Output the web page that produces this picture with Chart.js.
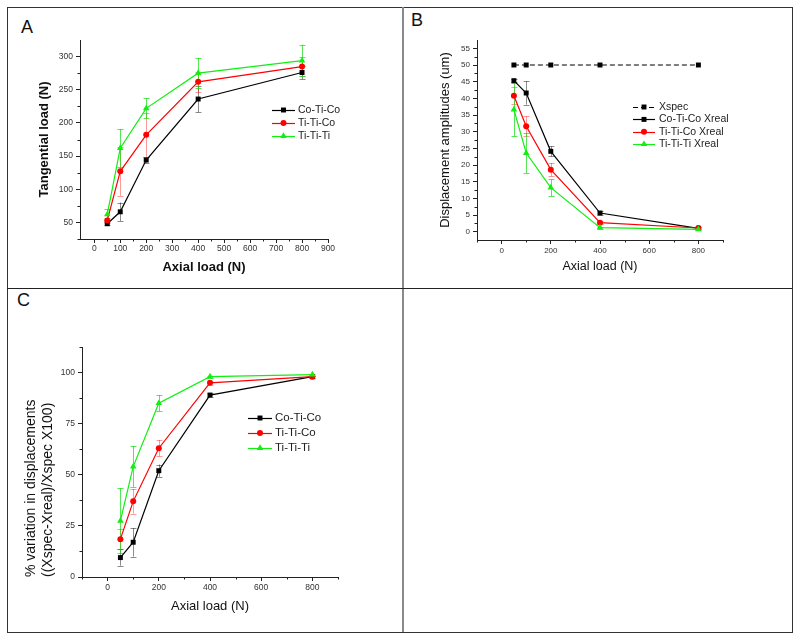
<!DOCTYPE html>
<html>
<head>
<meta charset="utf-8">
<title>Axial load - tangential load and displacement</title>
<script src="https://cdn.jsdelivr.net/npm/chart.js@4.4.1/dist/chart.umd.min.js"></script>
<style>
  html, body { margin: 0; padding: 0; background: #fff; }
  #page { position: relative; width: 800px; height: 640px; overflow: hidden; font-family: 'Liberation Sans', Arial, sans-serif; }
  #page canvas { position: absolute; left: 0; top: 0; }
  .frame { position: absolute; left: 7px; top: 7px; width: 784px; height: 624px; border: 1px solid #333; }
  .vline { position: absolute; left: 402px; top: 7px; width: 2px; height: 625px; background: #8a8a8a; }
  .hline { position: absolute; left: 7px; top: 288px; width: 785px; height: 1px; background: #222; }
  .tag { position: absolute; font-size: 18px; line-height: 18px; color: #111; }
</style>
</head>
<body>
<div id="page">
  <div class="frame"></div>
  <div class="vline"></div>
  <div class="hline"></div>
  <div class="tag" style="left:21px;top:18px">A</div>
  <div class="tag" style="left:411px;top:11px">B</div>
  <div class="tag" style="left:17px;top:291px">C</div>
  <canvas id="chartA" width="800" height="640"></canvas>
  <canvas id="chartB" width="800" height="640"></canvas>
  <canvas id="chartC" width="800" height="640"></canvas>
</div>
<script>
var FONT = "'Liberation Sans', Arial, sans-serif";

var axialLoad = [50, 100, 200, 400, 800];

// A - tangential load (N)
var tangCoTiCo = [48, 66, 144, 236, 276];
var tangCoTiCoErr = [2, 14, 4, 20, 10];
var tangTiTiCo = [53, 127, 182, 262, 285];
var tangTiTiCoErr = [4, 37, 33, 15, 15];
var tangTiTiTi = [62, 162, 222, 275, 294];
var tangTiTiTiErr = [8, 29, 15, 23, 24];

// B - displacement amplitudes (um)
var xSpec = [50, 50, 50, 50, 50];
var dispCoTiCo = [45.3, 41.6, 24.1, 5.6, 1.0];
var dispCoTiCoErr = [0.5, 3.5, 1.5, 0.5, 0.3];
var dispTiTiCo = [40.8, 31.6, 18.6, 2.7, 1.1];
var dispTiTiCoErr = [2.5, 3, 2, 0.5, 0.3];
var dispTiTiTi = [36.6, 23.6, 13.2, 1.2, 0.7];
var dispTiTiTiErr = [8, 6, 2.5, 0.3, 0.2];

// C - % variation in displacements
var varCoTiCo = [9.5, 17, 52, 89, 98];
var varCoTiCoErr = [4, 7, 3, 1, 0.5];
var varTiTiCo = [18.5, 37, 63, 95, 98];
var varTiTiCoErr = [5, 6, 4, 1, 0.5];
var varTiTiTi = [27.5, 54, 85, 98, 99];
var varTiTiTiErr = [16, 10, 4, 0.5, 0.5];

// tick values
var ticksAx = [0, 100, 200, 300, 400, 500, 600, 700, 800, 900];
var minorAx = [50, 150, 250, 350, 450, 550, 650, 750, 850];
var ticksAy = [50, 100, 150, 200, 250, 300];
var minorAy = [25, 75, 125, 175, 225, 275];
var ticksBx = [0, 200, 400, 600, 800];
var minorBx = [-100, 100, 300, 500, 700, 900];
var ticksBy = [0, 5, 10, 15, 20, 25, 30, 35, 40, 45, 50, 55];
var minorBy = [2.5, 7.5, 12.5, 17.5, 22.5, 27.5, 32.5, 37.5, 42.5, 47.5, 52.5];
var ticksCx = [0, 200, 400, 600, 800];
var minorCx = [-100, 100, 300, 500, 700, 900];
var ticksCy = [0, 25, 50, 75, 100];
var minorCy = [12.5, 37.5, 62.5, 87.5, 112.5];

var BLACK = '#000000', RED = '#ff0000', GREEN = '#11ee11';

function pts(ys) {
    return axialLoad.map(function (x, i) {
        return {x: x, y: ys[i]};
    });
}

function series(label, ys, errs, color, errColor, style, radius, order, dash) {
    return {
        label: label,
        data: pts(ys),
        errors: errs,
        errorColor: errColor,
        borderColor: color,
        backgroundColor: color,
        borderWidth: 1.2,
        borderDash: dash || [],
        pointStyle: style,
        pointRadius: radius,
        pointBorderWidth: 0,
        pointBackgroundColor: color,
        tension: 0,
        order: order
    };
}

// error bars drawn under the markers
var errorBars = {
    id: 'errorBars',
    beforeDatasetsDraw: function (chart) {
        var ctx = chart.ctx;
        var yScale = chart.scales.y;
        chart.data.datasets.forEach(function (ds, i) {
            if (!ds.errors) return;
            var meta = chart.getDatasetMeta(i);
            ctx.save();
            ctx.strokeStyle = ds.errorColor || ds.borderColor;
            ctx.lineWidth = 1;
            ctx.beginPath();
            meta.data.forEach(function (pt, j) {
                var e = ds.errors[j];
                if (!e) return;
                var v = ds.data[j].y;
                var top = yScale.getPixelForValue(v + e);
                var bot = yScale.getPixelForValue(v - e);
                var x = Math.round(pt.x) + 0.5;
                ctx.moveTo(x, top); ctx.lineTo(x, bot);
                ctx.moveTo(x - 3, Math.round(top) + 0.5); ctx.lineTo(x + 3, Math.round(top) + 0.5);
                ctx.moveTo(x - 3, Math.round(bot) + 0.5); ctx.lineTo(x + 3, Math.round(bot) + 0.5);
            });
            ctx.stroke();
            ctx.restore();
        });
    }
};

function minorTicks(xs, ys) {
    return {
        id: 'minorTicks',
        afterDraw: function (chart) {
            var ctx = chart.ctx, area = chart.chartArea;
            ctx.save();
            ctx.strokeStyle = '#222';
            ctx.lineWidth = 1;
            ctx.beginPath();
            xs.forEach(function (v) {
                var px = Math.round(chart.scales.x.getPixelForValue(v)) + 0.5;
                ctx.moveTo(px, area.bottom); ctx.lineTo(px, area.bottom + 2.5);
            });
            ys.forEach(function (v) {
                var py = Math.round(chart.scales.y.getPixelForValue(v)) + 0.5;
                ctx.moveTo(area.left, py); ctx.lineTo(area.left - 2.5, py);
            });
            ctx.stroke();
            ctx.restore();
        }
    };
}

function panelLegend(box) {
    return {
        id: 'panelLegend',
        afterDraw: function (chart) {
            var ctx = chart.ctx;
            ctx.save();
            chart.data.datasets.forEach(function (ds, i) {
                var y = box.y + i * box.dy;
                ctx.strokeStyle = ds.borderColor;
                ctx.lineWidth = 1.2;
                ctx.setLineDash(ds.borderDash || []);
                ctx.beginPath();
                ctx.moveTo(box.x0, Math.round(y) + 0.5);
                ctx.lineTo(box.x1, Math.round(y) + 0.5);
                ctx.stroke();
                ctx.setLineDash([]);
                ctx.fillStyle = ds.borderColor;
                Chart.helpers.drawPoint(ctx, {pointStyle: ds.pointStyle, radius: ds.pointRadius, rotation: 0, borderWidth: 0}, (box.x0 + box.x1) / 2, y);
                ctx.fillStyle = '#222';
                ctx.font = box.font;
                ctx.textBaseline = 'middle';
                ctx.textAlign = 'left';
                ctx.fillText(ds.label, box.tx, y);
            });
            ctx.restore();
        }
    };
}

function axis(o) {
    return {
        type: 'linear',
        min: o.min,
        max: o.max,
        afterBuildTicks: function (scale) {
            scale.ticks = o.ticks.map(function (v) { return {value: v}; });
        },
        afterFit: function (scale) {
            if (scale.isHorizontal()) scale.height = o.size;
            else scale.width = o.size;
        },
        grid: {drawOnChartArea: false, drawTicks: true, tickLength: 4, color: '#222'},
        border: {display: true, color: '#222', width: 1},
        ticks: {font: {family: FONT, size: o.tickSize}, color: '#333', padding: o.tickPad, maxRotation: 0, autoSkip: false},
        title: {
            display: true,
            text: o.title,
            color: '#111',
            padding: 0,
            align: o.align || 'center',
            font: {family: FONT, size: o.titleSize, weight: o.bold ? 'bold' : 'normal', lineHeight: 1.2}
        }
    };
}

function baseOptions(pad, xAxis, yAxis) {
    return {
        responsive: false,
        animation: false,
        devicePixelRatio: 1,
        layout: {padding: pad},
        plugins: {legend: {display: false}, tooltip: {enabled: false}},
        scales: {x: xAxis, y: yAxis}
    };
}

// Panel A
new Chart(document.getElementById('chartA'), {
    type: 'line',
    data: {
        datasets: [
            series('Co-Ti-Co', tangCoTiCo, tangCoTiCoErr, BLACK, 'rgba(0,0,0,0.45)', 'rect', 3.5, 3),
            series('Ti-Ti-Co', tangTiTiCo, tangTiTiCoErr, RED, 'rgba(255,0,0,0.4)', 'circle', 3, 2),
            series('Ti-Ti-Ti', tangTiTiTi, tangTiTiTiErr, GREEN, 'rgba(17,220,17,0.7)', 'triangle', 3.8, 1)
        ]
    },
    options: baseOptions({left: 37, top: 40, right: 472, bottom: 365},
        axis({min: -55, max: 900, ticks: ticksAx, size: 36, tickSize: 8.5, tickPad: 1, title: 'Axial load (N)', titleSize: 13, bold: true}),
        axis({min: 25, max: 325, ticks: ticksAy, size: 43, tickSize: 8.5, tickPad: 3, title: 'Tangential load (N)', titleSize: 13, bold: true})),
    plugins: [errorBars, minorTicks(minorAx, minorAy), panelLegend({x0: 272, x1: 295, tx: 298, y: 110, dy: 13, font: '10.5px ' + FONT})]
});

// Panel B
new Chart(document.getElementById('chartB'), {
    type: 'line',
    data: {
        datasets: [
            series('Xspec', xSpec, null, BLACK, null, 'rect', 3.5, 4, [5, 3]),
            series('Co-Ti-Co Xreal', dispCoTiCo, dispCoTiCoErr, BLACK, 'rgba(0,0,0,0.45)', 'rect', 3.5, 3),
            series('Ti-Ti-Co Xreal', dispTiTiCo, dispTiTiCoErr, RED, 'rgba(255,0,0,0.4)', 'circle', 3, 2),
            series('Ti-Ti-Ti Xreal', dispTiTiTi, dispTiTiTiErr, GREEN, 'rgba(17,220,17,0.7)', 'triangle', 3.8, 1)
        ]
    },
    options: baseOptions({left: 438, top: 40, right: 77, bottom: 366},
        axis({min: -100, max: 900, ticks: ticksBx, size: 34, tickSize: 8, tickPad: 2, title: 'Axial load (N)', titleSize: 12.5}),
        axis({min: -2.5, max: 57.5, ticks: ticksBy, size: 39, tickSize: 8, tickPad: 3, title: 'Displacement amplitudes (um)', titleSize: 13})),
    plugins: [errorBars, minorTicks(minorBx, minorBy), panelLegend({x0: 633, x1: 655, tx: 659, y: 107, dy: 12.4, font: '10.5px ' + FONT})]
});

// Panel C
new Chart(document.getElementById('chartC'), {
    type: 'line',
    data: {
        datasets: [
            series('Co-Ti-Co', varCoTiCo, varCoTiCoErr, BLACK, 'rgba(0,0,0,0.45)', 'rect', 3.5, 3),
            series('Ti-Ti-Co', varTiTiCo, varTiTiCoErr, RED, 'rgba(255,0,0,0.4)', 'circle', 3, 2),
            series('Ti-Ti-Ti', varTiTiTi, varTiTiTiErr, GREEN, 'rgba(17,220,17,0.7)', 'triangle', 3.8, 1)
        ]
    },
    options: baseOptions({left: 23, top: 347, right: 462, bottom: 26},
        axis({min: -100, max: 900, ticks: ticksCx, size: 37, tickSize: 8.5, tickPad: 2, title: 'Axial load (N)', titleSize: 13}),
        axis({min: 0, max: 112.5, ticks: ticksCy, size: 59, tickSize: 8.5, tickPad: 3, title: ['% variation in displacements', '((Xspec-Xreal)/Xspec X100)'], titleSize: 14, align: 'start'})),
    plugins: [errorBars, minorTicks(minorCx, minorCy), panelLegend({x0: 248, x1: 272, tx: 275, y: 418, dy: 15, font: '11.5px ' + FONT})]
});
</script>
</body>
</html>
